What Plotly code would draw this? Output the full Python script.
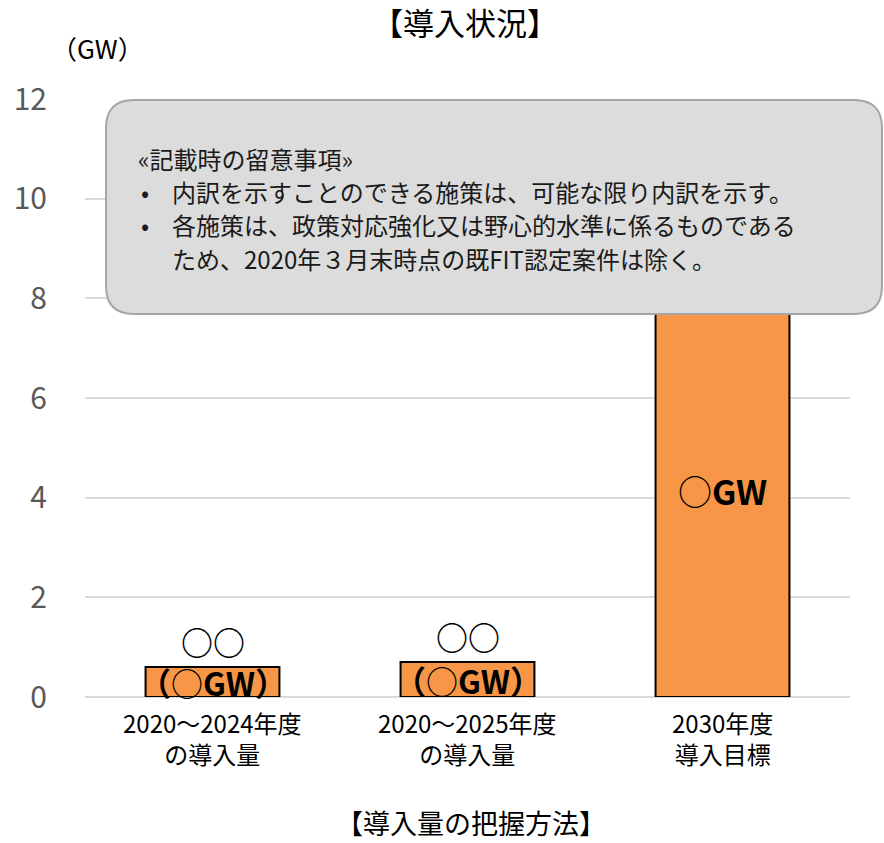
import plotly.graph_objects as go

# Categories and values (GW)
cat_line1 = ["2020～2024年度", "2020～2025年度", "2030年度"]
cat_line2 = ["の導入量", "の導入量", "導入目標"]
categories = [a + " " + b for a, b in zip(cat_line1, cat_line2)]
values = [0.6, 0.7, 8.3]
top_labels = ["○○", "○○", ""]
inner_labels = ["<b>（</b>○<b>GW）</b>", "<b>（</b>○<b>GW）</b>", "○<b>GW</b>"]
inner_sizes = [32, 32, 34]
y_ticks = [0, 2, 4, 6, 8, 10, 12]

note_title = "«記載時の留意事項»"
note_lines = [
    "内訳を示すことのできる施策は、可能な限り内訳を示す。",
    "各施策は、政策対応強化又は野心的水準に係るものである",
    "ため、2020年３月末時点の既FIT認定案件は除く。",
]
note_bullets = [True, True, False]

FONT = "Noto Sans CJK JP"
W, H = 884, 843
L, R, T, B = 85, 34, 99, 146
PW, PH = W - L - R, H - T - B


def px(x):
    return (x - L) / PW


def py(y):
    return (H - B - y) / PH


fig = go.Figure()
fig.add_trace(go.Bar(
    x=categories,
    y=values,
    width=0.525,
    marker=dict(color="#F79646", line=dict(color="#000000", width=2)),
    hoverinfo="skip",
))

annotations = []
for cat, v, top, inner, isz in zip(categories, values, top_labels, inner_labels, inner_sizes):
    if top:
        annotations.append(dict(
            x=cat, y=v, xref="x", yref="y", text=f"<b>{top}</b>",
            showarrow=False, yanchor="bottom", yshift=2, borderpad=0,
            font=dict(family=FONT, size=32, color="#000000"),
        ))
    annotations.append(dict(
        x=cat, y=v / 2, xref="x", yref="y", text=inner,
        showarrow=False, yanchor="middle", borderpad=0,
        font=dict(family=FONT, size=isz, color="#000000"),
    ))

# Category labels, two lines under each bar
for cat, l1, l2 in zip(categories, cat_line1, cat_line2):
    annotations.append(dict(
        x=cat, y=py(738), xref="x", yref="paper", text=f"{l1}<br>{l2}",
        showarrow=False, xanchor="center", yanchor="middle", borderpad=0,
        font=dict(family=FONT, size=24, color="#000000"),
    ))

# Titles
annotations.append(dict(
    x=px(465), y=py(21), xref="paper", yref="paper", text="【導入状況】",
    showarrow=False, xanchor="center", yanchor="middle",
    font=dict(family=FONT, size=31, color="#000000"),
))
annotations.append(dict(
    x=px(97), y=py(47), xref="paper", yref="paper", text="（GW）",
    showarrow=False, xanchor="center", yanchor="middle",
    font=dict(family=FONT, size=26, color="#000000"),
))
annotations.append(dict(
    x=px(471), y=py(822), xref="paper", yref="paper", text="【導入量の把握方法】",
    showarrow=False, xanchor="center", yanchor="middle", borderpad=0,
    font=dict(family=FONT, size=27, color="#000000"),
))

# Note box text
annotations.append(dict(
    x=px(136), y=py(158), xref="paper", yref="paper", text=note_title,
    showarrow=False, xanchor="left", yanchor="middle",
    font=dict(family=FONT, size=24, color="#1a1a1a"),
))
for i, (line, bullet) in enumerate(zip(note_lines, note_bullets)):
    yy = 191 + i * 33.5
    if bullet:
        annotations.append(dict(
            x=px(145), y=py(yy), xref="paper", yref="paper", text="•",
            showarrow=False, xanchor="center", yanchor="middle",
            font=dict(family=FONT, size=24, color="#1a1a1a"),
        ))
    annotations.append(dict(
        x=px(170), y=py(yy), xref="paper", yref="paper", text=line,
        showarrow=False, xanchor="left", yanchor="middle",
        font=dict(family=FONT, size=24, color="#1a1a1a"),
    ))

# Rounded note box
bx0, bx1, by0, by1 = px(106), px(882), py(314), py(100)
rx, ry = 28 / PW, 28 / PH
box_path = (
    f"M {bx0+rx},{by1} L {bx1-rx},{by1} Q {bx1},{by1} {bx1},{by1-ry} "
    f"L {bx1},{by0+ry} Q {bx1},{by0} {bx1-rx},{by0} "
    f"L {bx0+rx},{by0} Q {bx0},{by0} {bx0},{by0+ry} "
    f"L {bx0},{by1-ry} Q {bx0},{by1} {bx0+rx},{by1} Z"
)

fig.update_layout(
    width=W, height=H,
    margin=dict(l=L, r=R, t=T, b=B, pad=0),
    paper_bgcolor="#ffffff", plot_bgcolor="#ffffff",
    showlegend=False,
    font=dict(family=FONT),
    bargap=0.475,
    shapes=[dict(
        type="path", path=box_path, xref="paper", yref="paper",
        fillcolor="#DCDCDC", line=dict(color="#A6A6A6", width=2), layer="above",
    )],
    annotations=annotations,
    xaxis=dict(
        showgrid=False, showline=False, zeroline=False,
        ticks="", showticklabels=False,
    ),
    yaxis=dict(
        range=[0, 12], tickvals=y_ticks, ticktext=[str(t) for t in y_ticks],
        showgrid=True, gridcolor="#D9D9D9", gridwidth=2,
        zeroline=True, zerolinecolor="#D9D9D9", zerolinewidth=2,
        showline=False, ticks="",
        tickfont=dict(family=FONT, size=30, color="#595959"),
        ticklabelstandoff=37,
    ),
)

fig.write_html("out.html")
